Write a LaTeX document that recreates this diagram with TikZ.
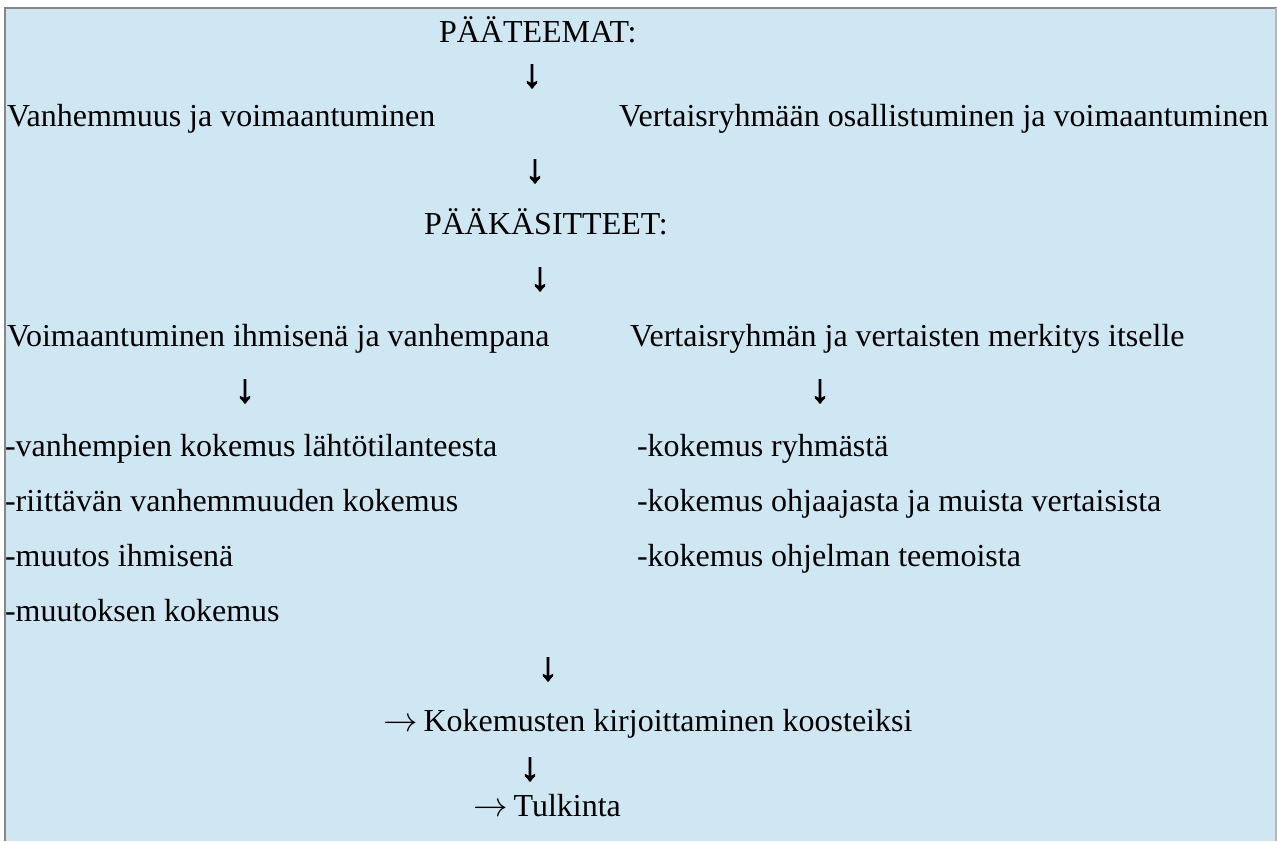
\documentclass[tikz,border=0pt]{standalone}
\usepackage{fontspec}
\setmainfont{Liberation Serif}
\newfontfamily\arrowfont[FakeBold=2.5]{Liberation Sans}
\definecolor{bgblue}{RGB}{207,230,243}
\definecolor{framegray}{RGB}{135,135,135}
\newcommand{\rarr}{$\rightarrow$\hspace{-1pt}}
\begin{document}
\begin{tikzpicture}[x=0.5pt,y=-0.5pt,
  txt/.style={inner sep=0pt,outer sep=0pt,anchor=base west,font=\fontsize{16}{19}\selectfont},
  darr/.style={inner sep=0pt,outer sep=0pt,anchor=base,font=\fontsize{20}{24}\selectfont\arrowfont\bfseries}]
\useasboundingbox (0,0) rectangle (1277,841);
\fill[white] (0,0) rectangle (1277,841);
\fill[bgblue] (5,8) rectangle (1277,841);
\draw[framegray,line width=1pt] (5,841) -- (5,8) -- (1277,8);
\draw[framegray!60,line width=0.6pt] (1276,8) -- (1276,841);
% texts
\node[txt] (t1) at (439,42) {PÄÄTEEMAT:};
\node[darr] (a1) at (532,87) {↓};
\node[txt] (l1) at (7,126) {Vanhemmuus ja voimaantuminen};
\node[txt] (r1) at (619,126) {Vertaisryhmään osallistuminen ja voimaantuminen};
\node[darr] (a2) at (535,182) {↓};
\node[txt] (t2) at (424,234) {PÄÄKÄSITTEET:};
\node[darr] (a3) at (540,290) {↓};
\node[txt] (l2) at (7,346) {Voimaantuminen ihmisenä ja vanhempana};
\node[txt] (r2) at (630,346) {Vertaisryhmän ja vertaisten merkitys itselle};
\node[darr] (a4) at (245,402) {↓};
\node[darr] (a5) at (820,402) {↓};
\node[txt] (l3) at (5,456) {-vanhempien kokemus lähtötilanteesta};
\node[txt] (r3) at (637,456) {-kokemus ryhmästä};
\node[txt] (l4) at (5,511) {-riittävän vanhemmuuden kokemus};
\node[txt] (r4) at (637,511) {-kokemus ohjaajasta ja muista vertaisista};
\node[txt] (l5) at (5,566) {-muutos ihmisenä};
\node[txt] (r5) at (637,566) {-kokemus ohjelman teemoista};
\node[txt] (l6) at (5,621) {-muutoksen kokemus};
\node[darr] (a6) at (548,680) {↓};
\node[txt] (t3) at (383,731) {\rarr{} Kokemusten kirjoittaminen koosteiksi};
\node[darr] (a7) at (530,780) {↓};
\node[txt] (t4) at (473,816) {\rarr{} Tulkinta};
\end{tikzpicture}
\end{document}
